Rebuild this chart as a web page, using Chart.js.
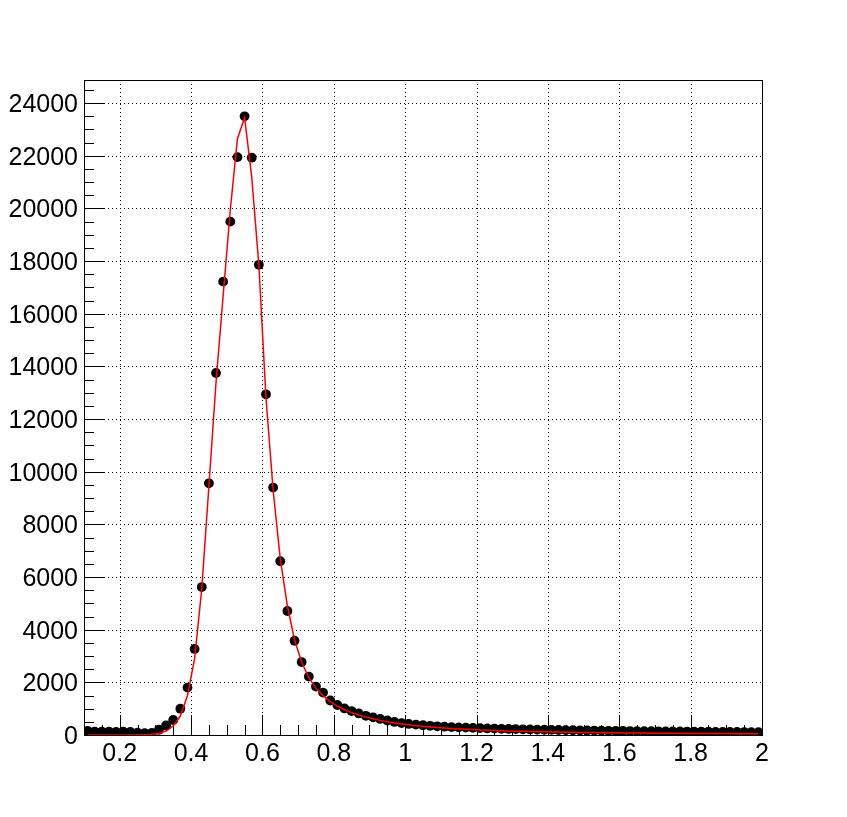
<!DOCTYPE html>
<html>
<head>
<meta charset="utf-8">
<script src="https://cdn.jsdelivr.net/npm/chart.js@4.4.1/dist/chart.umd.min.js"></script>
<style>
html,body{margin:0;padding:0;background:#fff;}
#wrap{width:847px;height:817px;position:relative;}
</style>
</head>
<body>
<div id="wrap"><canvas id="c" width="847" height="817"></canvas></div>
<script>
// Bin centers (bin width 0.02 from 0.1 to 2.0)
const binCenters = [
0.11,0.13,0.15,0.17,0.19,0.21,0.23,0.25,0.27,0.29,
0.31,0.33,0.35,0.37,0.39,0.41,0.43,0.45,0.47,0.49,
0.51,0.53,0.55,0.57,0.59,0.61,0.63,0.65,0.67,0.69,
0.71,0.73,0.75,0.77,0.79,0.81,0.83,0.85,0.87,0.89,
0.91,0.93,0.95,0.97,0.99,1.01,1.03,1.05,1.07,1.09,
1.11,1.13,1.15,1.17,1.19,1.21,1.23,1.25,1.27,1.29,
1.31,1.33,1.35,1.37,1.39,1.41,1.43,1.45,1.47,1.49,
1.51,1.53,1.55,1.57,1.59,1.61,1.63,1.65,1.67,1.69,
1.71,1.73,1.75,1.77,1.79,1.81,1.83,1.85,1.87,1.89,
1.91,1.93,1.95,1.97,1.99];

// Histogram counts (black markers)
const counts = [
160,130,125,130,120,125,115,90,70,80,
200,360,570,1000,1800,3270,5620,9560,13750,17220,
19500,21950,23500,21930,17860,12940,9400,6600,4710,3580,
2770,2220,1840,1610,1310,1140,1010,910,820,730,
670,610,550,495,450,420,395,370,350,330,
315,300,290,280,270,260,250,245,235,230,
222,215,210,205,200,195,190,185,180,178,
172,168,165,160,158,155,150,148,145,142,
140,138,135,132,130,128,125,123,120,118,
116,114,112,110,108];

// Fit curve values (red line) read at the same x positions
const fitValues = [
0,0,0,1,1,2,4,7,14,28,
60,150,340,720,1500,2900,5550,9450,13400,16700,
19950,22650,23450,21200,17850,12800,9300,6700,4900,3620,
2760,2180,1780,1490,1270,1100,960,850,760,680,
615,555,505,460,420,385,355,328,305,284,
265,248,232,218,205,193,182,172,163,155,
147,140,133,127,121,116,111,106,102,98,
94,91,88,85,82,79,77,75,72,70,
68,66,65,63,61,60,58,57,56,54,
53,52,51,50,49];

const xTicks = [0.2,0.4,0.6,0.8,1.0,1.2,1.4,1.6,1.8,2.0];
const xTickLabels = ["0.2","0.4","0.6","0.8","1","1.2","1.4","1.6","1.8","2"];
const yTicks = [0,2000,4000,6000,8000,10000,12000,14000,16000,18000,20000,22000,24000];
const xRange = [0.1, 2.0];
const yRange = [0, 24880];

const dataPts = binCenters.map((x,i)=>({x:x,y:counts[i]}));
const fitPts = binCenters.map((x,i)=>({x:x,y:fitValues[i]}));

const FONT = "Liberation Sans, Arial, Helvetica, sans-serif";

const rootFrame = {
  id: 'rootFrame',
  beforeDatasetsDraw(chart){
    const ctx = chart.ctx, a = chart.chartArea;
    const xs = chart.scales.x, ys = chart.scales.y;
    ctx.save();
    ctx.strokeStyle = '#000';
    ctx.lineWidth = 1;
    ctx.setLineDash([1,3]);
    xTicks.forEach(v=>{
      const px = Math.round(xs.getPixelForValue(v))+0.5;
      ctx.beginPath(); ctx.moveTo(px,a.top); ctx.lineTo(px,a.bottom); ctx.stroke();
    });
    yTicks.forEach(v=>{
      const py = Math.round(ys.getPixelForValue(v))+0.5;
      ctx.beginPath(); ctx.moveTo(a.left,py); ctx.lineTo(a.right,py); ctx.stroke();
    });
    ctx.setLineDash([]);
    const minorX = 0.05;
    for(let k=Math.ceil(xRange[0]/minorX-1e-9); k*minorX<=xRange[1]+1e-9; k++){
      const v = k*minorX;
      const major = Math.abs(v/0.2 - Math.round(v/0.2))<1e-6;
      const px = Math.round(xs.getPixelForValue(v))+0.5;
      const len = major?20:10;
      ctx.beginPath(); ctx.moveTo(px,a.bottom); ctx.lineTo(px,a.bottom-len); ctx.stroke();
    }
    const minorY = 500;
    for(let k=0; k*minorY<=yRange[1]; k++){
      const v = k*minorY;
      const major = (v%2000)===0;
      const py = Math.round(ys.getPixelForValue(v))+0.5;
      const len = major?20:10;
      ctx.beginPath(); ctx.moveTo(a.left,py); ctx.lineTo(a.left+len,py); ctx.stroke();
    }
    ctx.strokeRect(Math.round(a.left)+0.5, Math.round(a.top)+0.5, Math.round(a.right-a.left), Math.round(a.bottom-a.top));
    ctx.restore();
  }
};

new Chart(document.getElementById('c'), {
  type: 'scatter',
  data: {
    datasets: [
      {
        label: 'fit',
        type: 'line',
        data: fitPts,
        borderColor: '#ff0000',
        borderWidth: 1.5,
        pointRadius: 0,
        tension: 0,
        fill: false,
        order: 0
      },
      {
        label: 'data',
        data: dataPts,
        backgroundColor: '#000',
        borderColor: '#000',
        pointRadius: 4.9,
        pointBorderWidth: 0,
        order: 1
      }
    ]
  },
  plugins: [rootFrame],
  options: {
    responsive: false,
    animation: false,
    events: [],
    layout: { padding: { left: 0, top: 80, right: 85, bottom: 0 } },
    plugins: { legend: {display:false}, tooltip: {enabled:false}, title:{display:false} },
    scales: {
      x: {
        type: 'linear',
        min: xRange[0], max: xRange[1],
        grid: { display: false, drawTicks: false },
        border: { display: false },
        afterBuildTicks: s => { s.ticks = xTicks.map(v=>({value:v})); },
        afterFit: s => { s.height = 82; },
        ticks: {
          autoSkip: false, maxRotation: 0, padding: 4,
          color: '#000',
          font: { family: FONT, size: 25 },
          callback: (v) => { const i = xTicks.findIndex(t=>Math.abs(t-v)<1e-9); return i>=0 ? xTickLabels[i] : ''; }
        }
      },
      y: {
        type: 'linear',
        min: yRange[0], max: yRange[1],
        grid: { display: false, drawTicks: false },
        border: { display: false },
        afterBuildTicks: s => { s.ticks = yTicks.map(v=>({value:v})); },
        afterFit: s => { s.width = 84; },
        ticks: {
          autoSkip: false, padding: 6, labelOffset: 2,
          color: '#000',
          font: { family: FONT, size: 25 },
          callback: (v) => String(v)
        }
      }
    }
  }
});
</script>
</body>
</html>
